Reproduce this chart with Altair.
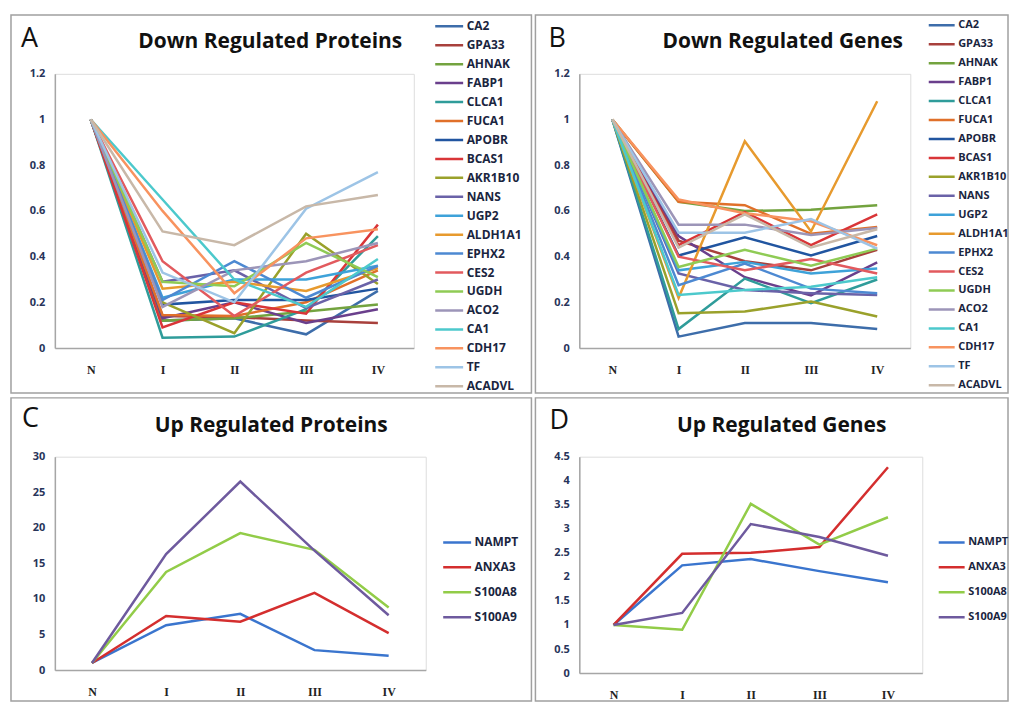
import altair as alt
import pandas as pd

stages = ["N", "I", "II", "III", "IV"]

down_names = ["CA2", "GPA33", "AHNAK", "FABP1", "CLCA1", "FUCA1", "APOBR", "BCAS1",
              "AKR1B10", "NANS", "UGP2", "ALDH1A1", "EPHX2", "CES2", "UGDH", "ACO2",
              "CA1", "CDH17", "TF", "ACADVL"]
down_colors = ["#3D6DAA", "#A8403C", "#73A33F", "#6A3F8C", "#2F9C9A", "#E0702A",
               "#2155A0", "#D93538", "#9AA12B", "#6A62A8", "#3EA2D9", "#E79A2E",
               "#4D89D2", "#E25A5E", "#8FCB55", "#9C95B8", "#4CC9CC", "#F8935F",
               "#9DC4E6", "#C8B8A8"]

# Panel A: Down Regulated Proteins (N, I, II, III, IV)
prot_down = [
    [1, 0.12, 0.13, 0.06, 0.25],    # CA2
    [1, 0.14, 0.135, 0.12, 0.11],   # GPA33
    [1, 0.12, 0.13, 0.16, 0.19],    # AHNAK
    [1, 0.13, 0.20, 0.11, 0.17],    # FABP1
    [1, 0.045, 0.05, 0.17, 0.49],   # CLCA1
    [1, 0.145, 0.14, 0.20, 0.34],   # FUCA1
    [1, 0.19, 0.21, 0.21, 0.26],    # APOBR
    [1, 0.09, 0.20, 0.15, 0.54],    # BCAS1
    [1, 0.20, 0.065, 0.50, 0.28],   # AKR1B10
    [1, 0.29, 0.34, 0.175, 0.30],   # NANS
    [1, 0.22, 0.30, 0.30, 0.36],    # UGP2
    [1, 0.26, 0.29, 0.25, 0.35],    # ALDH1A1
    [1, 0.21, 0.38, 0.22, 0.36],    # EPHX2
    [1, 0.38, 0.14, 0.33, 0.45],    # CES2
    [1, 0.29, 0.27, 0.46, 0.31],    # UGDH
    [1, 0.18, 0.34, 0.38, 0.46],    # ACO2
    [1, 0.65, 0.30, 0.18, 0.39],    # CA1
    [1, 0.60, 0.24, 0.48, 0.52],    # CDH17
    [1, 0.33, 0.20, 0.61, 0.77],    # TF
    [1, 0.51, 0.45, 0.62, 0.67],    # ACADVL
]

# Panel B: Down Regulated Genes
gene_down = [
    [1, 0.05, 0.109, 0.109, 0.083],   # CA2
    [1, 0.47, 0.38, 0.34, 0.43],      # GPA33
    [1, 0.64, 0.60, 0.605, 0.625],    # AHNAK
    [1, 0.49, 0.31, 0.23, 0.375],     # FABP1
    [1, 0.083, 0.304, 0.196, 0.30],   # CLCA1
    [1, 0.64, 0.625, 0.50, 0.53],     # FUCA1
    [1, 0.405, 0.485, 0.405, 0.49],   # APOBR
    [1, 0.45, 0.595, 0.45, 0.585],    # BCAS1
    [1, 0.152, 0.16, 0.203, 0.138],   # AKR1B10
    [1, 0.326, 0.254, 0.24, 0.232],   # NANS
    [1, 0.34, 0.377, 0.326, 0.348],   # UGP2
    [1, 0.22, 0.905, 0.51, 1.08],     # ALDH1A1
    [1, 0.275, 0.37, 0.26, 0.24],     # EPHX2
    [1, 0.40, 0.34, 0.39, 0.326],     # CES2
    [1, 0.355, 0.43, 0.36, 0.435],    # UGDH
    [1, 0.54, 0.54, 0.495, 0.525],    # ACO2
    [1, 0.232, 0.254, 0.268, 0.31],   # CA1
    [1, 0.65, 0.59, 0.555, 0.45],     # CDH17
    [1, 0.505, 0.505, 0.565, 0.435],  # TF
    [1, 0.44, 0.585, 0.44, 0.52],     # ACADVL
]

up_names = ["NAMPT", "ANXA3", "S100A8", "S100A9"]
up_colors = ["#3A75CE", "#D42E2E", "#92CC48", "#6E5A9E"]

# Panel C: Up Regulated Proteins
prot_up = [
    [1, 6.3, 7.9, 2.8, 2.0],       # NAMPT
    [1, 7.6, 6.8, 10.85, 5.2],     # ANXA3
    [1, 13.8, 19.25, 16.9, 8.8],   # S100A8
    [1, 16.3, 26.5, 16.8, 7.7],    # S100A9
]

# Panel D: Up Regulated Genes
gene_up = [
    [1, 2.24, 2.37, 2.12, 1.89],   # NAMPT
    [1, 2.48, 2.50, 2.62, 4.28],   # ANXA3
    [1, 0.90, 3.52, 2.67, 3.24],   # S100A8
    [1, 1.25, 3.10, 2.83, 2.44],   # S100A9
]

y_ticks_down = [0, 0.2, 0.4, 0.6, 0.8, 1, 1.2]
y_ticks_prot_up = [0, 5, 10, 15, 20, 25, 30]
y_ticks_gene_up = [0, 0.5, 1, 1.5, 2, 2.5, 3, 3.5, 4, 4.5]


def long_table(names, rows):
    recs = []
    for name, row in zip(names, rows):
        for i, (st, v) in enumerate(zip(stages, row)):
            recs.append({"series": name, "stage": st, "idx": i, "value": v})
    return pd.DataFrame(recs)


AXIS_GRAY = "#A6A6A6"
LABEL_NAVY = "#28345A"


def panel(names, rows, colors, ticks, fmt, w, h, border, title, title_xy,
          letter, letter_xy, legend_xy, row_h, sym_len, leg_font):
    df = long_table(names, rows)
    one = alt.Data(values=[{"k": 0}])
    bx0, bx1, by0, by1 = border
    box = alt.Chart(one).mark_rect(
        fill="white", fillOpacity=0, stroke="#A0A0A0", strokeWidth=1.5
    ).encode(x=alt.value(bx0), x2=alt.value(bx1), y=alt.value(by0), y2=alt.value(by1))

    lines = alt.Chart(df).mark_line(strokeWidth=2.5).encode(
        x=alt.X("stage:N", sort=stages, title=None,
                scale=alt.Scale(type="point", padding=0.5),
                axis=alt.Axis(ticks=False, grid=False, domainColor=AXIS_GRAY,
                              domainWidth=1.5, labelAngle=0, labelFont="Liberation Serif",
                              labelFontWeight="bold", labelFontSize=12, labelColor="#222222",
                              labelPadding=17)),
        y=alt.Y("value:Q", title=None,
                scale=alt.Scale(domain=[ticks[0], ticks[-1]], nice=False, zero=True),
                axis=alt.Axis(values=ticks, format=fmt, ticks=False, grid=False,
                              domainColor=AXIS_GRAY, domainWidth=1.5,
                              labelFont="Open Sans", labelFontWeight="bold",
                              labelFontSize=11, labelColor=LABEL_NAVY, labelPadding=10)),
        color=alt.Color("series:N", sort=names,
                        scale=alt.Scale(domain=names, range=colors),
                        legend=alt.Legend(title=None, orient="none",
                                          legendX=legend_xy[0], legendY=legend_xy[1],
                                          symbolType="stroke", symbolSize=sym_len * sym_len,
                                          symbolStrokeWidth=2.5, labelFont="Open Sans",
                                          labelFontWeight="bold", labelFontSize=leg_font,
                                          labelColor="#1A2540", labelOffset=2,
                                          clipHeight=row_h, rowPadding=0, padding=0)),
        order=alt.Order("idx:Q"),
    )

    ttl = alt.Chart(one).mark_text(
        font="Open Sans", fontWeight="bold", fontSize=21, color="#111111",
        align="center", baseline="middle"
    ).encode(x=alt.value(title_xy[0]), y=alt.value(title_xy[1]), text=alt.value(title))

    let = alt.Chart(one).mark_text(
        font="Open Sans", fontSize=27, color="#111111", align="left", baseline="middle"
    ).encode(x=alt.value(letter_xy[0]), y=alt.value(letter_xy[1]), text=alt.value(letter))

    return alt.layer(box, lines, ttl, let).properties(width=w, height=h)


pA = panel(down_names, prot_down, down_colors, y_ticks_down, ".1~f", 360, 275,
           (-44, 478, -59, 320), "Down Regulated Proteins", (216, -32),
           "A", (-34, -35), (380, -57), 18.6, 28, 12)
pB = panel(down_names, gene_down, down_colors, y_ticks_down, ".1~f", 332, 275,
           (-44, 430, -59, 320), "Down Regulated Genes", (204, -32),
           "B", (-31, -35), (349, -58), 18.6, 26, 11)
pC = panel(up_names, prot_up, up_colors, y_ticks_prot_up, "d", 372, 214,
           (-44, 478, -59, 245), "Up Regulated Proteins", (217, -31),
           "C", (-33, -38), (388, 73.5), 25, 28, 12)
pD = panel(up_names, gene_up, up_colors, y_ticks_gene_up, ".1~f", 344, 217,
           (-44, 430, -59, 245), "Up Regulated Genes", (203, -31),
           "D", (-30, -36), (359, 73.5), 25, 26, 11)

chart = alt.concat(
    pA, pB, pC, pD, columns=2, bounds="flush",
    spacing=alt.RowColnumber(row=109, column=154)
).resolve_scale(
    color="independent", x="independent", y="independent"
).resolve_legend(color="independent").properties(
    padding={"left": 1, "top": 4, "right": 0, "bottom": 0}
).configure_view(strokeWidth=0).configure(background="white")

chart.save("out.html", embed_options={"renderer": "svg", "actions": False})
